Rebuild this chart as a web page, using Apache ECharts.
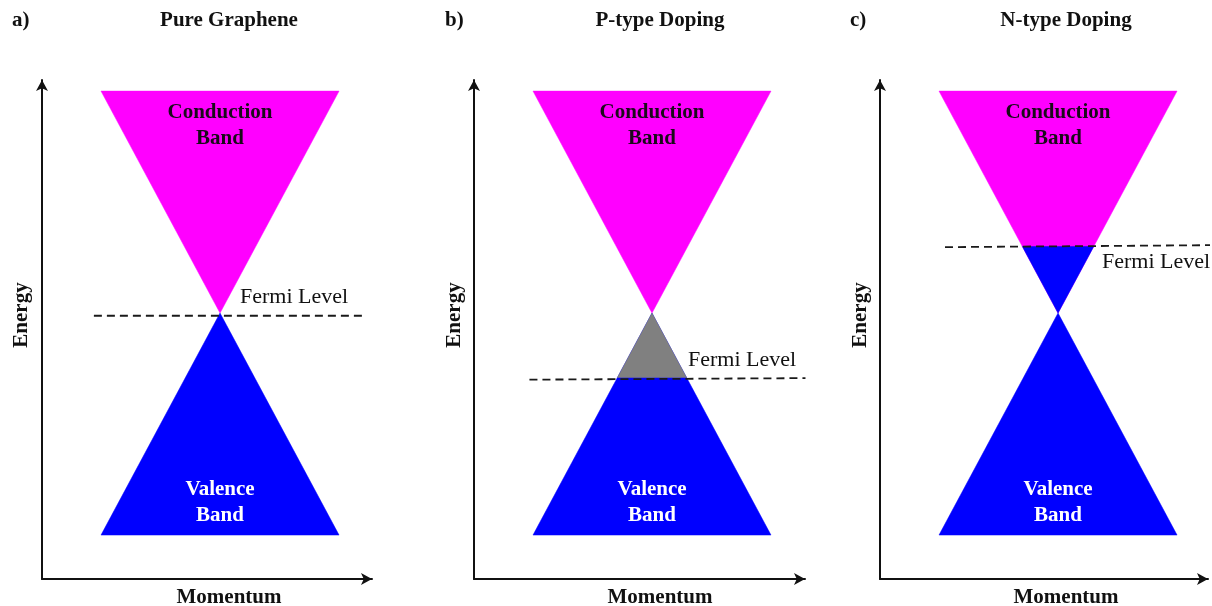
<!DOCTYPE html>
<html>
<head>
<meta charset="utf-8">
<script src="https://cdn.jsdelivr.net/npm/echarts@6/dist/echarts.min.js"></script>
<style>html,body{margin:0;padding:0;background:#fff}#c{width:1212px;height:606px}</style>
</head>
<body>
<div id="c"></div>
<script>
// ---- data ----
const panelLetters = ['a)', 'b)', 'c)'];
const panelTitles = ['Pure Graphene', 'P-type Doping', 'N-type Doping'];
const axisNames = {x: 'Momentum', y: 'Energy'};
const conductionBand = [[-1, 1], [1, 1], [0, 0]];
const valenceBand = [[-1, -1], [1, -1], [0, 0]];
const fermiLevels = [0, -0.29, 0.30];          // energy of Fermi level in each panel
const fermiLineX = [[-1.06, 1.20], [-1.03, 1.29], [-0.95, 1.32]];
const fermiLineE = [[-0.012, -0.012], [-0.30, -0.293], [0.297, 0.306]];
const bandLabels = ['Conduction\nBand', 'Valence\nBand'];
const fermiLabel = 'Fermi Level';

// ---- layout ----
const FONT = '"Liberation Serif", "DejaVu Serif", serif';
const grids = [
  {left: 42, top: 80, width: 330, height: 499},
  {left: 474, top: 80, width: 331, height: 499},
  {left: 880, top: 80, width: 328, height: 499}
];
const xMax = [1.277, 1.286, 1.26];
const apexX = [220, 652, 1058];

const chart = echarts.init(document.getElementById('c'), null, {renderer: 'canvas'});

const xAxes = [], yAxes = [], series = [];
const axisLine = {show: true, onZero: false, symbol: ['none', 'arrow'], symbolSize: [9, 11],
  lineStyle: {color: '#111', width: 2}};
for (let i = 0; i < 3; i++) {
  xAxes.push({type: 'value', gridIndex: i, min: -1.496, max: xMax[i], axisLine,
    axisTick: {show: false}, axisLabel: {show: false}, splitLine: {show: false}});
  yAxes.push({type: 'value', gridIndex: i, min: -1.198, max: 1.05, axisLine,
    axisTick: {show: false}, axisLabel: {show: false}, splitLine: {show: false}});

  const f = fermiLevels[i];
  const polys = [
    {pts: conductionBand, color: '#FF00FF'},
    {pts: valenceBand, color: '#0000FF'}
  ];
  if (f < 0) polys.push({pts: [[f, f], [-f, f], [0, 0]], color: '#808080'});
  if (f > 0) polys.push({pts: [[-f, f], [f, f], [0, 0]], color: '#0000FF'});

  series.push({
    type: 'custom', xAxisIndex: i, yAxisIndex: i, clip: false, silent: true,
    data: polys.map((p, k) => [k]),
    renderItem: function (params, api) {
      const p = polys[params.dataIndex];
      return {type: 'polygon', shape: {points: p.pts.map(v => api.coord(v))},
        style: {fill: p.color, stroke: p.color, lineWidth: 0.5}};
    }
  });
  series.push({
    type: 'line', xAxisIndex: i, yAxisIndex: i, clip: false, silent: true, symbol: 'none',
    data: [[fermiLineX[i][0], fermiLineE[i][0]], [fermiLineX[i][1], fermiLineE[i][1]]],
    lineStyle: {color: '#1a1a1a', width: 1.8, type: [8, 5]}, z: 5
  });
}

const graphic = [];
const letterX = [12, 445, 850];
const titleX = [229, 660, 1066];
const energyX = [22, 455, 861];
const fermiPos = [[240, 297], [688, 360], [1102, 262]];
function txt(x, y, text, opts) {
  return Object.assign({type: 'text', x, y, silent: true, z: 100,
    style: Object.assign({text, font: 'bold 21px ' + FONT, fill: '#111', align: 'center', verticalAlign: 'middle'}, opts || {})});
}
for (let i = 0; i < 3; i++) {
  graphic.push(txt(letterX[i], 21, panelLetters[i], {align: 'left'}));
  graphic.push(txt(titleX[i], 21, panelTitles[i]));
  graphic.push(txt(titleX[i], 598, axisNames.x));
  const e = txt(energyX[i], 315, axisNames.y);
  e.rotation = Math.PI / 2;
  graphic.push(e);
  graphic.push(txt(apexX[i], 126, bandLabels[0], {lineHeight: 26, fill: '#1a0a1a'}));
  graphic.push(txt(apexX[i], 503, bandLabels[1], {lineHeight: 26, fill: '#ffffff'}));
  graphic.push(txt(fermiPos[i][0], fermiPos[i][1], fermiLabel, {align: 'left', font: '22px ' + FONT}));
}

chart.setOption({
  animation: false,
  backgroundColor: '#ffffff',
  grid: grids,
  xAxis: xAxes,
  yAxis: yAxes,
  series,
  graphic
});
</script>
</body>
</html>
